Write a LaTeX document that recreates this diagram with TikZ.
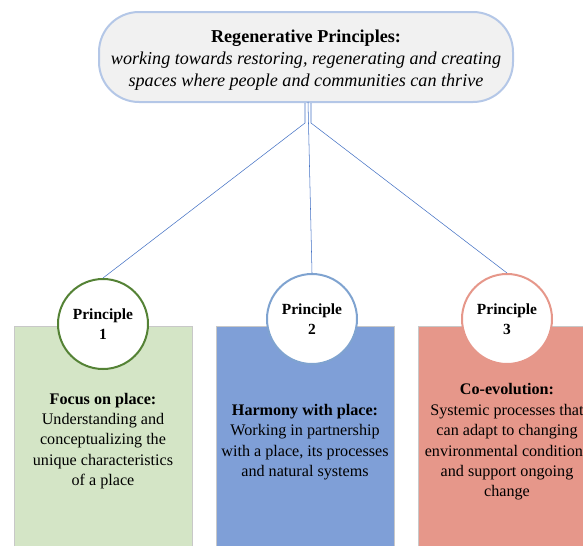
\documentclass[tikz,border=0pt]{standalone}
\usepackage{fontspec}
\setmainfont{Liberation Serif}
\usetikzlibrary{positioning}

\definecolor{linkblue}{HTML}{4472C4}
\definecolor{headblue}{HTML}{B4C7E7}
\definecolor{headgray}{HTML}{F1F1F1}
\definecolor{panelgray}{HTML}{C8C8C8}
\definecolor{placegreen}{HTML}{D4E5C6}
\definecolor{ringgreen}{HTML}{548235}
\definecolor{placeblue}{HTML}{7F9FD7}
\definecolor{ringblue}{HTML}{7FA3D0}
\definecolor{placered}{HTML}{E6978A}

\begin{document}
\begin{tikzpicture}[x=0.75pt,y=-0.75pt,semithick]
          \tikzstyle{principle}=[circle,fill=white,line width=1.5pt,minimum size=67.5pt,inner sep=0pt,align=center,font=\bfseries\fontsize{11.6}{15}\selectfont]
          \tikzstyle{panel}=[draw=panelgray,thin,minimum width=133.5pt,minimum height=175.5pt,anchor=north]
          \tikzstyle{panel text}=[align=center,font=\fontsize{12.1}{15.3}\selectfont]
          \tikzstyle{link}=[draw=linkblue,thin]

          \useasboundingbox (0,0) rectangle (583,546);
          \clip (0,0) rectangle (583,546);

          \node[draw=headblue,fill=headgray,line width=1.5pt,rounded corners=30pt,
                minimum width=310.5pt,minimum height=67.5pt,align=center,
                font=\fontsize{13.6}{16.6}\selectfont] (head) at (306,57)
                {\rule{0pt}{14.5pt}\textbf{Regenerative Principles:}\\
                 \textit{working towards restoring, regenerating and creating}\\
                 \textit{spaces where people and communities can thrive}};

          % panels
          \node[panel,fill=placegreen] (place1) at (103,326) {};
          \node[panel,fill=placeblue]  (place2) at (305,326) {};
          \node[panel,fill=placered]   (place3) at (507,326) {};

          \node[panel text] (text1) at (103,441) {\textbf{Focus on place:}\\Understanding and\\conceptualizing the\\unique characteristics\\of a place};
          \node[panel text] (text2) at (305,442) {\textbf{Harmony with place:}\\Working in partnership\\with a place, its processes\\and natural systems};
          \node[panel text] (text3) at (507,442) {\textbf{Co-evolution:}\\Systemic processes that\\can adapt to changing\\environmental conditions\\and support ongoing\\change};

          % principles
          \node[principle,draw=ringgreen] (p1) at (103,324) {Principle\\1};
          \node[principle,draw=ringblue]  (p2) at (312,319) {Principle\\2};
          \node[principle,draw=placered]  (p3) at (507,319) {Principle\\3};

          \coordinate (forkL) at (305,123);
          \coordinate (forkR) at (311,123);
          \coordinate (forkM) at (308,102);

          \draw[link] (head.south -| forkL) -- (forkL) -- (p1.north);
          \draw[link] (head.south -| forkR) -- (forkR) -- (p3.north);
          \draw[link] (forkM) -- (p2.north);
\end{tikzpicture}
\end{document}
